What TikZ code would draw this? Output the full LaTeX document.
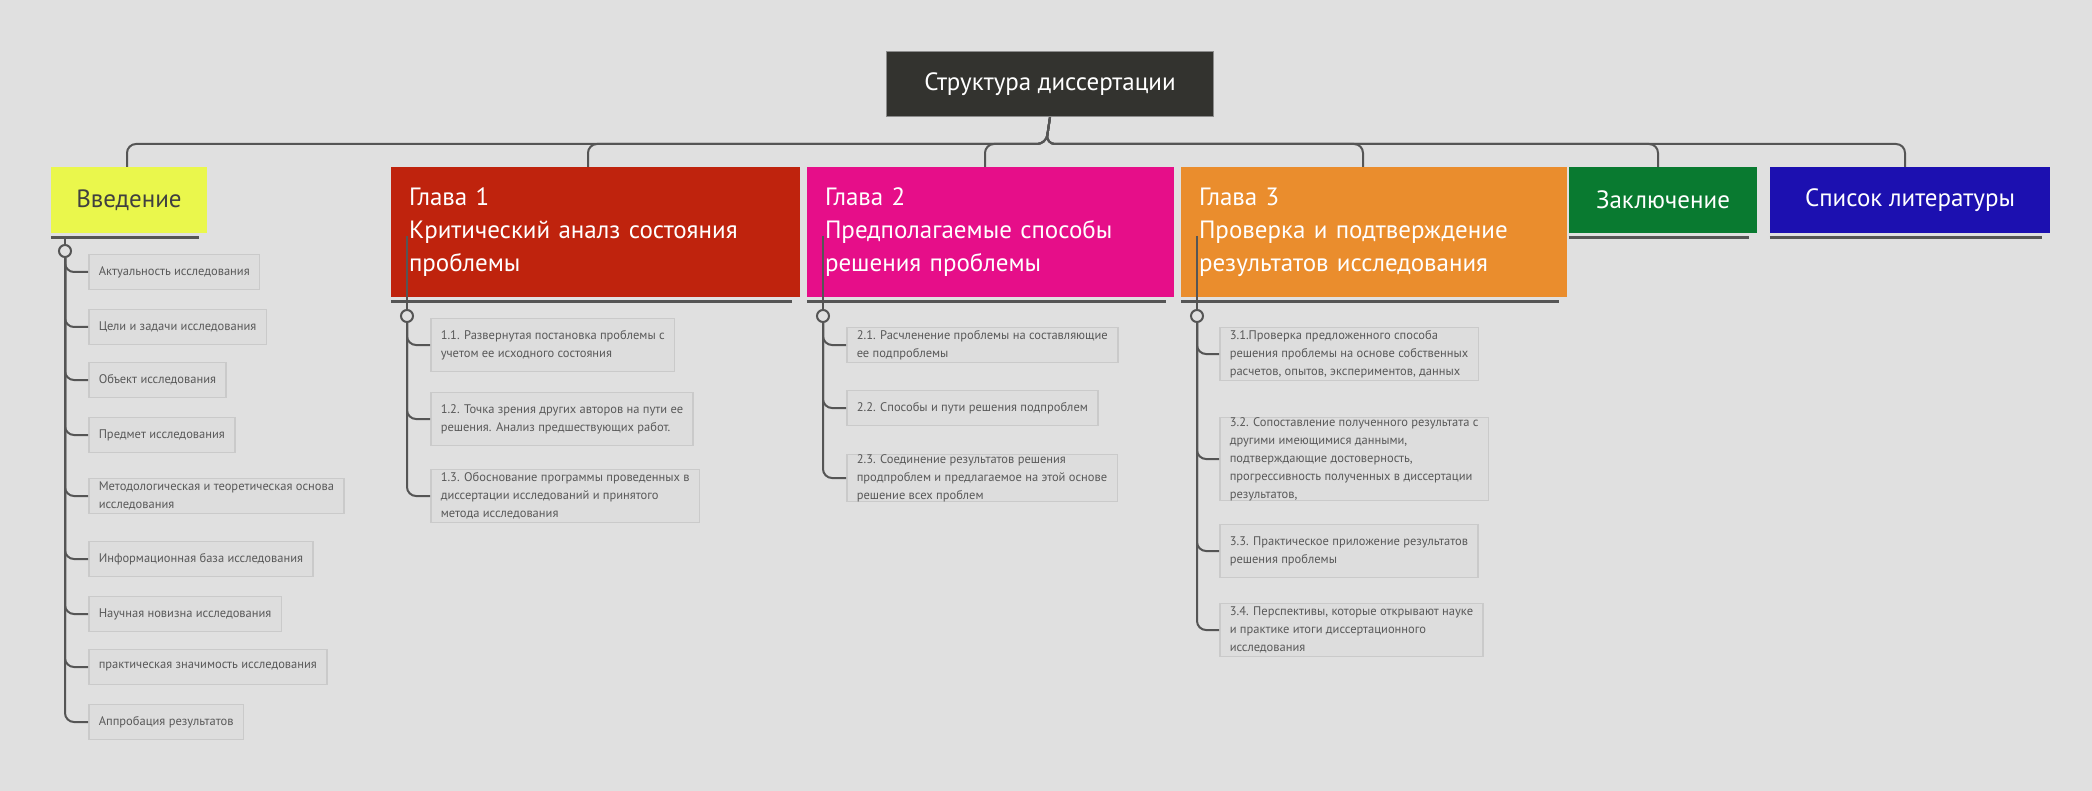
\documentclass[tikz,border=0pt]{standalone}
\usepackage{fontspec}
\setmainfont{PT Sans}
\usetikzlibrary{positioning}
\definecolor{bg}{HTML}{E0E0E0}
\definecolor{rootfill}{HTML}{33332F}
\definecolor{introfill}{HTML}{EAF74C}
\definecolor{onefill}{HTML}{BF230D}
\definecolor{twofill}{HTML}{E60E89}
\definecolor{threefill}{HTML}{EA8D2D}
\definecolor{endfill}{HTML}{097A30}
\definecolor{litfill}{HTML}{1C10B0}
\definecolor{wire}{HTML}{555555}
\begin{document}
\begin{tikzpicture}[x=1pt,y=-1pt,
					every node/.style={inner sep=0pt},
					head/.style={align=left, text=white, inner sep=0pt,
						font=\fontsize{25}{33}\selectfont},
					item/.style={anchor=west, align=left, fill=bg!93!black!20!bg, draw=black!10!bg,
						line width=1.5pt, inner xsep=10pt, minimum height=35pt, text=black!65,
						font=\fontsize{12.5}{18}\selectfont},
					wires/.style={draw=wire, line width=2pt, rounded corners=9pt},
					knob/.style={circle, draw=wire, line width=2pt, fill=bg, minimum size=12pt}
					]
\useasboundingbox[fill=bg] (0,0) rectangle (2092,791);
% root and chapters
\node[head, fill=rootfill, draw=black!45, line width=1.5pt, minimum width=327pt, minimum height=65pt, align=center](root) at (1050,84){Структура диссертации};
\node[head, fill=introfill, text=black!75, minimum width=156pt, minimum height=66pt](intro) at (129,200){Введение};
\node[head, fill=onefill, text width=373pt, minimum width=409pt, minimum height=130pt](one) at (595.5,232){Глава 1\\Критический аналз состояния\\проблемы};
\node[head, fill=twofill, text width=331pt, minimum width=367pt, minimum height=130pt](two) at (990.5,232){Глава 2\\Предполагаемые способы\\решения проблемы};
\node[head, fill=threefill, text width=350pt, minimum width=386pt, minimum height=130pt](three) at (1374,232){Глава 3\\Проверка и подтверждение\\результатов исследования};
\node[head, fill=endfill, minimum width=188pt, minimum height=66pt](fin) at (1663,200){Заключение};
\node[head, fill=litfill, minimum width=280pt, minimum height=66pt](lit) at (1910,200){Список литературы};
% bus
\coordinate (bus) at (1046,144);
\foreach \n/\xx in {intro/127,one/588,two/985,three/1363,fin/1658,lit/1905}{
	\draw[wires] (root.south) -- (bus) -| (\xx,167);
	\draw[wire, line width=3pt] ([yshift=-4pt]\n.south west) -- ([xshift=-8pt,yshift=-4pt]\n.south east);
}
% knobs
\node[knob](intro-k) at (65,251){};
\node[knob](one-k) at (407,316){};
\node[knob](two-k) at (823,316){};
\node[knob](three-k) at (1197,316){};
\foreach \n/\xx in {intro/65,one/407,two/823,three/1197}
	\draw[wire, line width=2pt] (\xx,236) -- (\n-k.north);
% introduction items
\foreach \i/\yy/\txt in {1/272/{Актуальность исследования},2/327/{Цели и задачи исследования},
	3/380/{Объект исследования},4/435/{Предмет исследования},
	5/496/{Методологическая и теоретическая основа\\исследования},6/559/{Информационная база исследования},
	7/614/{Научная новизна исследования},8/667/{практическая значимость исследования},
	9/722/{Аппробация результатов}}{
	\node[item](intro-\i) at (88,\yy){\txt};
	\draw[wires] (intro-k.south) |- (intro-\i.west);
}
% chapter 1 items
\foreach \i/\yy/\txt in {1/345/{1.1. Развернутая постановка проблемы с\\учетом ее исходного состояния},
	2/419/{1.2. Точка зрения других авторов на пути ее\\решения. Анализ предшествующих работ.},
	3/496/{1.3. Обоснование программы проведенных в\\диссертации исследований и принятого\\метода исследования}}{
	\node[item, minimum height=53pt](one-\i) at (430,\yy){\txt};
	\draw[wires] (one-k.south) |- (one-\i.west);
}
% chapter 2 items
\foreach \i/\yy/\txt in {1/345/{2.1. Расчленение проблемы на составляющие\\ее подпроблемы},
	2/408/{2.2. Способы и пути решения подпроблем},
	3/478/{2.3. Соединение результатов решения\\продпроблем и предлагаемое на этой основе\\решение всех проблем}}{
	\node[item](two-\i) at (846,\yy){\txt};
	\draw[wires] (two-k.south) |- (two-\i.west);
}
% chapter 3 items
\foreach \i/\yy/\txt in {1/354/{3.1.Проверка предложенного способа\\решения проблемы на основе собственных\\расчетов, опытов, экспериментов, данных},
	2/459/{3.2. Сопоставление полученного результата с\\другими имеющимися данными,\\подтверждающие достоверность,\\прогрессивность полученных в диссертации\\результатов,},
	3/551/{3.3. Практическое приложение результатов\\решения проблемы},
	4/630/{3.4. Перспективы, которые открывают науке\\и практике итоги диссертационного\\исследования}}{
	\node[item, minimum height=53pt](three-\i) at (1219,\yy){\txt};
	\draw[wires] (three-k.south) |- (three-\i.west);
}
\end{tikzpicture}
\end{document}
